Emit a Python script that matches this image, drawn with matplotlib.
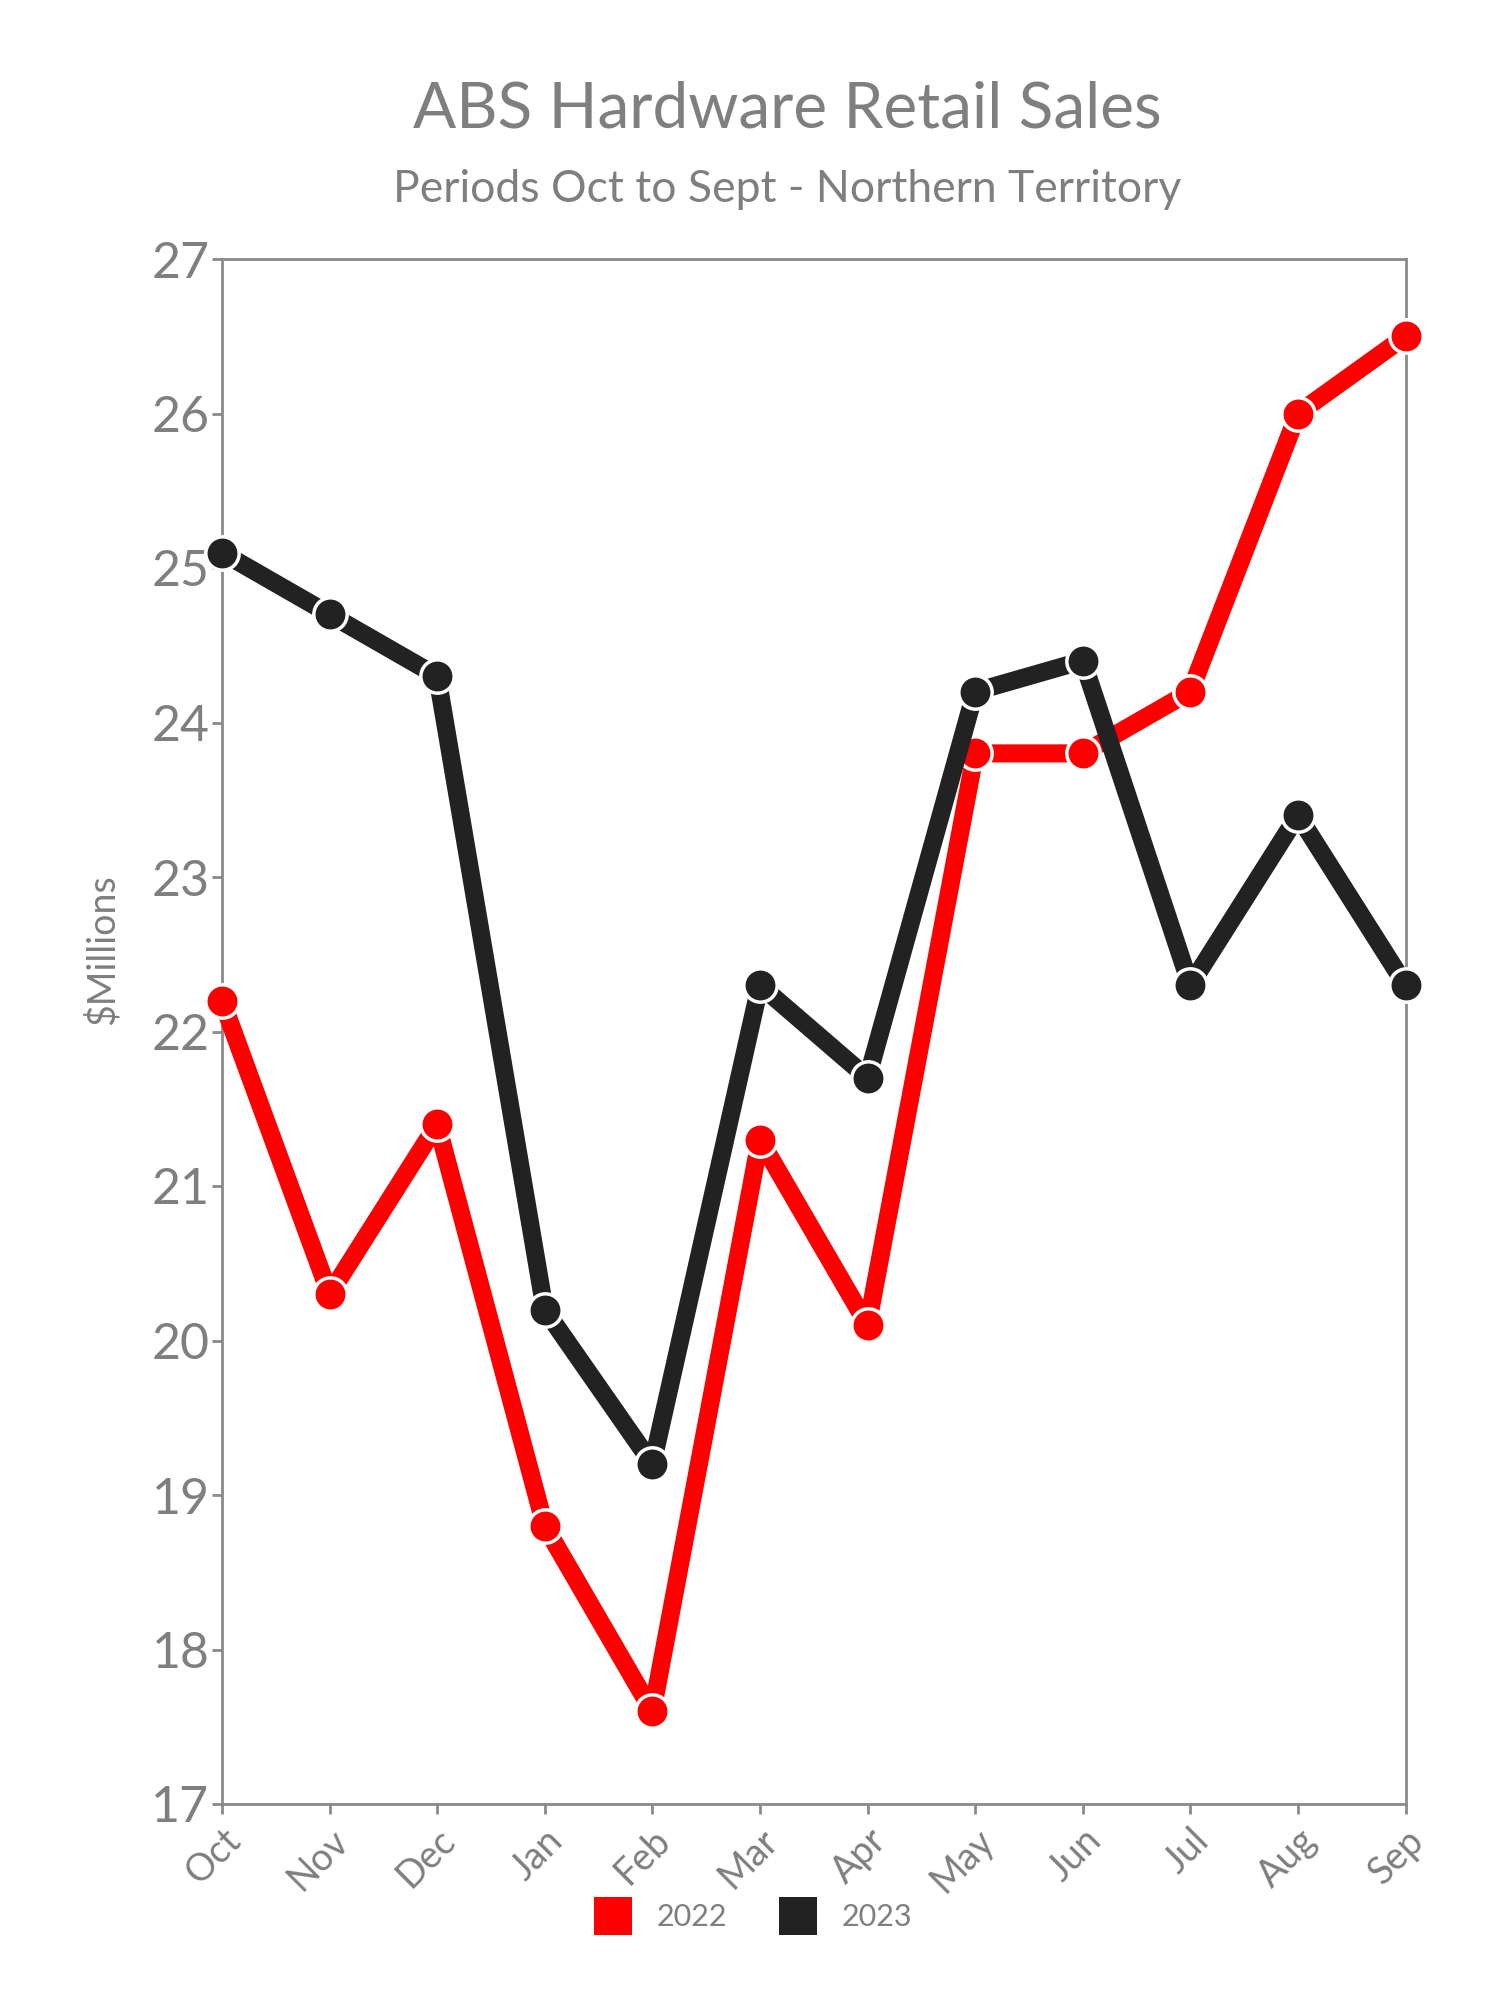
import matplotlib
matplotlib.use("Agg")
import matplotlib.pyplot as plt
from matplotlib.patches import Patch

months = ["Oct", "Nov", "Dec", "Jan", "Feb", "Mar", "Apr", "May", "Jun", "Jul", "Aug", "Sep"]
sales_2022 = [22.2, 20.3, 21.4, 18.8, 17.6, 21.3, 20.1, 23.8, 23.8, 24.2, 26.0, 26.5]
sales_2023 = [25.1, 24.7, 24.3, 20.2, 19.2, 22.3, 21.7, 24.2, 24.4, 22.3, 23.4, 22.3]
y_ticks = [17, 18, 19, 20, 21, 22, 23, 24, 25, 26, 27]

red = "#ff0000"
dark = "#222222"
grey = "#7f7f7f"
axis_grey = "#8a8a8a"

plt.rcParams["font.family"] = ["Lato", "DejaVu Sans"]

fig = plt.figure(figsize=(15, 20), dpi=100)
ax = fig.add_axes([0.148, 0.098, 0.789, 0.7725])

x = list(range(len(months)))
for vals, col, z in [(sales_2022, red, 3), (sales_2023, dark, 4)]:
    ax.plot(x, vals, color=col, linewidth=13, solid_capstyle="butt",
            marker="o", markersize=24, markerfacecolor=col,
            markeredgecolor="white", markeredgewidth=2.5,
            clip_on=False, zorder=z)

ax.set_xlim(0, len(months) - 1)
ax.set_ylim(17, 27)
ax.set_yticks(y_ticks)
ax.set_xticks(x)
ax.set_xticklabels(months, rotation=45, ha="right", rotation_mode="anchor")

for s in ax.spines.values():
    s.set_color(axis_grey)
    s.set_linewidth(2)

ax.tick_params(axis="y", labelsize=36, colors=grey, length=7, width=2, pad=2)
ax.tick_params(axis="x", labelsize=27, colors=grey, length=7, width=2, pad=6)
ax.tick_params(axis="both", color=axis_grey)

# y label sits a bit above the axes centre in the original
fig.text(0.068, 0.525, "$Millions", rotation=90, ha="center", va="center",
         fontsize=27, color=grey)

fig.text(0.525, 0.9455, "ABS Hardware Retail Sales", ha="center", va="center",
         fontsize=46, color=grey)
fig.text(0.525, 0.905, "Periods Oct to Sept - Northern Territory", ha="center",
         va="center", fontsize=32, color=grey)

handles = [Patch(facecolor=red, label="2022"), Patch(facecolor=dark, label="2023")]
fig.legend(handles=handles, loc="center", bbox_to_anchor=(0.502, 0.042), ncol=2,
           frameon=False, fontsize=22, labelcolor=grey, handlelength=1.25,
           handleheight=1.5, handletextpad=0.8, columnspacing=1.7)

fig.savefig("out.png", dpi=100)
